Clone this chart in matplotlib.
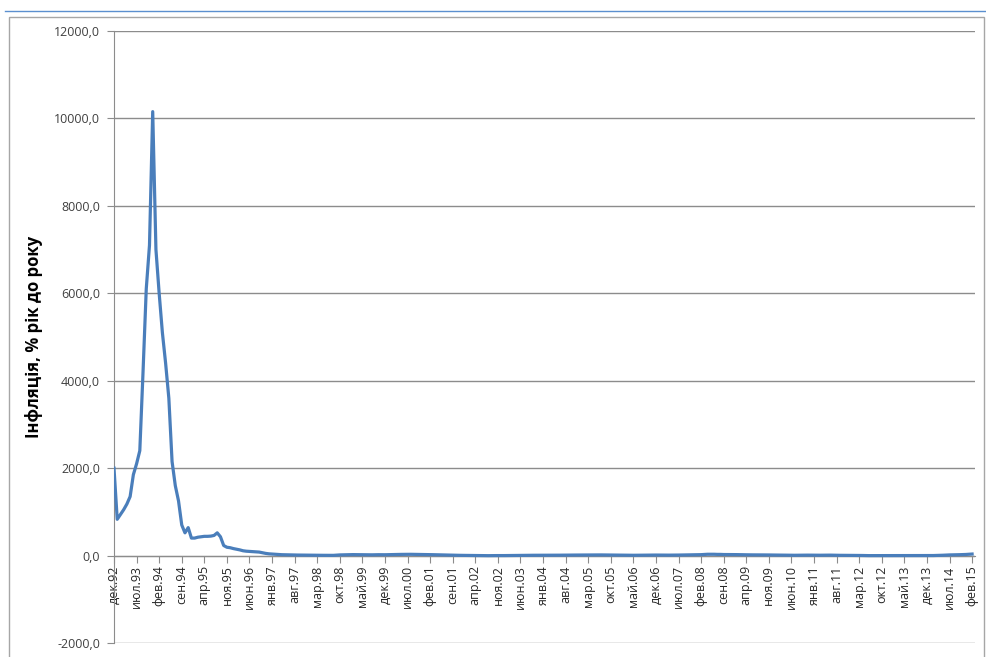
import matplotlib
matplotlib.use("Agg")
import matplotlib.pyplot as plt
from matplotlib.lines import Line2D
from matplotlib.patches import Rectangle

plt.rcParams['font.family'] = ['Open Sans', 'DejaVu Sans']

# monthly year-on-year inflation, % (Dec 1992 .. Feb 2015)
y1992 = [2000]
y1993 = [830, 940, 1050, 1180, 1350, 1850, 2100, 2400, 4200, 6100, 7100, 10155]
y1994 = [7000, 6000, 5100, 4400, 3600, 2150, 1600, 1250, 700, 520, 640, 400]
y1995 = [400, 420, 430, 440, 440, 445, 460, 520, 430, 230, 190, 180]
y1996 = [160, 145, 130, 110, 100, 95, 90, 85, 80, 65, 50, 40]
y1997 = [35, 30, 25, 20, 18, 16, 15, 14, 12, 11, 10, 10]
y1998 = [8, 6, 5, 6, 6, 6, 5, 5, 10, 15, 17, 20]
y1999 = [21, 22, 21, 20, 19, 19, 18, 17, 19, 20, 19, 19]
y2000 = [21, 23, 25, 26, 27, 28, 28, 29, 28, 27, 27, 26]
y2001 = [24, 22, 20, 18, 15, 12, 10, 8, 7, 6, 6, 6]
y2002 = [4, 3, 2, 1, 0, -1, -2, -2, -1, -1, 0, -1]
y2003 = [0, 1, 2, 3, 4, 5, 6, 7, 7, 7, 7, 8]
y2004 = [8, 8, 8, 8, 9, 9, 10, 12, 12, 12, 12, 12]
y2005 = [13, 14, 14, 14, 15, 15, 15, 14, 14, 13, 11, 10]
y2006 = [9, 9, 8, 7, 7, 7, 8, 9, 10, 11, 11, 12]
y2007 = [11, 10, 10, 10, 10, 11, 12, 13, 15, 15, 16, 17]
y2008 = [19, 21, 26, 30, 31, 30, 27, 27, 24, 24, 23, 22]
y2009 = [22, 20, 19, 18, 18, 16, 15, 15, 15, 15, 14, 12]
y2010 = [12, 11, 11, 10, 9, 7, 7, 8, 9, 10, 10, 9]
y2011 = [8, 7, 8, 9, 10, 10, 8, 7, 6, 5, 5, 5]
y2012 = [4, 4, 3, 2, 0, -1, -1, 0, 0, 0, 0, 0]
y2013 = [0, 0, 0, 0, -1, -1, -1, -1, -1, 0, 0, 1]
y2014 = [0, 1, 3, 5, 8, 12, 15, 16, 18, 20, 22, 25]
y2015 = [29, 35]

inflation = (y1992 + y1993 + y1994 + y1995 + y1996 + y1997 + y1998 + y1999 + y2000
             + y2001 + y2002 + y2003 + y2004 + y2005 + y2006 + y2007 + y2008 + y2009
             + y2010 + y2011 + y2012 + y2013 + y2014 + y2015)

month_names = ['янв', 'фев', 'мар', 'апр', 'май', 'июн',
               'июл', 'авг', 'сен', 'окт', 'ноя', 'дек']
# category labels, starting from Dec 1992
months = []
for i in range(len(inflation)):
    m = (11 + i) % 12
    yr = (1992 + (11 + i) // 12) % 100
    months.append('%s.%02d' % (month_names[m], yr))

y_ticks = [-2000, 0, 2000, 4000, 6000, 8000, 10000, 12000]
label_step = 7

fig = plt.figure(figsize=(9.87, 6.57), dpi=100)
W, H = 987, 657

# outer decoration (frame of the pasted chart)
fig.add_artist(Line2D([5 / W, 985 / W], [1 - 11 / H, 1 - 11 / H], color='#5b8fcf', lw=1))
fig.add_artist(Rectangle((9 / W, -0.01), 975 / W, 1 - 17 / H + 0.01, fill=False,
                         edgecolor='#a6a6a6', lw=1))

ax = fig.add_axes([114 / W, 1 - 643 / H, (975 - 114) / W, 612 / H])
x = list(range(len(inflation)))
ax.plot(x, inflation, color='#4a7ebb', lw=2.3, solid_joinstyle='round', zorder=3)

ax.set_ylim(-2000, 12000)
ax.set_xlim(0, len(inflation) - 1 + 0.9)
ax.set_yticks(y_ticks)
ax.set_yticklabels(['%d,0' % v for v in y_ticks], fontsize=9, color='#404040')
ax.yaxis.grid(True, color='#8c8c8c', lw=1)
ax.set_axisbelow(True)

ax.spines['top'].set_visible(False)
ax.spines['right'].set_visible(False)
ax.spines['left'].set_color('#8c8c8c')
ax.spines['bottom'].set_position(('data', 0))
ax.spines['bottom'].set_color('#8c8c8c')

ticks = x[::label_step]
ax.set_xticks(ticks)
ax.set_xticklabels([months[i] for i in ticks], rotation=90, fontsize=9, color='#262626')
ax.tick_params(axis='x', length=5, color='#8c8c8c', pad=2)
ax.tick_params(axis='y', length=5, color='#8c8c8c', pad=5)

ax.set_ylabel('Інфляція, % рік до року', fontsize=12, fontweight='bold', labelpad=8)

fig.savefig('out.png', dpi=100)
